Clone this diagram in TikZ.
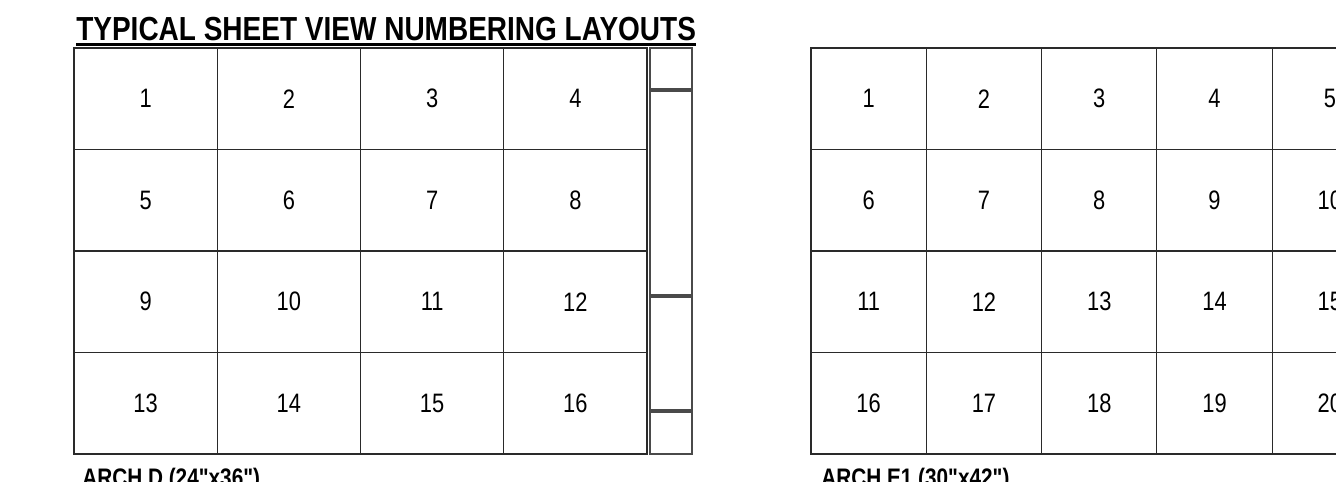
\documentclass[tikz,border=0pt]{standalone}
\usepackage{fontspec}
\setmainfont{Liberation Sans}
\newfontfamily\narrowfont{Liberation Sans}[FakeStretch=0.82]
\newfontfamily\titlefont{Liberation Sans}[FakeStretch=0.84]
\usetikzlibrary{positioning}
\definecolor{gridline}{HTML}{2A2A2A}
\definecolor{stripline}{HTML}{4A4A4A}
\tikzset{
  cell/.style={draw=gridline, line width=0.8pt, inner sep=0pt,
    font=\narrowfont\fontsize{20pt}{20pt}\selectfont, minimum height=76.125pt},
  cellD/.style={cell, minimum width=107.44pt},
  cellE/.style={cell, minimum width=86.5pt},
  strip/.style={draw=stripline, line width=0.8pt},
  heading/.style={font=\titlefont\bfseries\fontsize{25pt}{25pt}\selectfont,
    inner sep=0pt, anchor=base west},
  sheetcap/.style={font=\narrowfont\bfseries\fontsize{19pt}{19pt}\selectfont,
    inner sep=0pt, anchor=base west},
}

\begin{document}
\begin{tikzpicture}[x=0.75pt,y=-0.75pt]
  \useasboundingbox (0,0) rectangle (1336,482);
  \clip (0,0) rectangle (1336,482);
  % title
  \node[heading] (title) at (76,40) {TYPICAL SHEET VIEW NUMBERING LAYOUTS};
  \draw[line width=2.25pt] ([yshift=-3.4pt]title.base west) -- ([yshift=-3.4pt]title.base east);
  % ARCH D grid
  \foreach \r in {0,...,3} {
    \foreach \c in {0,...,3} {
      \pgfmathtruncatemacro{\n}{4*\r+\c+1}
      \node[cellD] (d\n) at ({74+143.25*(\c+0.5)},{48+101.5*(\r+0.5)}) {\n};
    }
  }
  % title block strip
  \draw[strip] (650,48) rectangle (692,89);
  \draw[strip] (650,91) rectangle (692,295);
  \draw[strip] (650,297) rectangle (692,410);
  \draw[strip] (650,412) rectangle (692,454);
  \node[sheetcap] (capD) at (82,486) {ARCH D (24"x36")};
  % ARCH E1 grid
  \foreach \r in {0,...,3} {
    \foreach \c in {0,...,4} {
      \pgfmathtruncatemacro{\n}{5*\r+\c+1}
      \node[cellE] (e\n) at ({811+115.3*(\c+0.5)},{48+101.5*(\r+0.5)}) {\n};
    }
  }
  \node[sheetcap] (capE) at (821,486) {ARCH E1 (30"x42")};
\end{tikzpicture}
\end{document}
